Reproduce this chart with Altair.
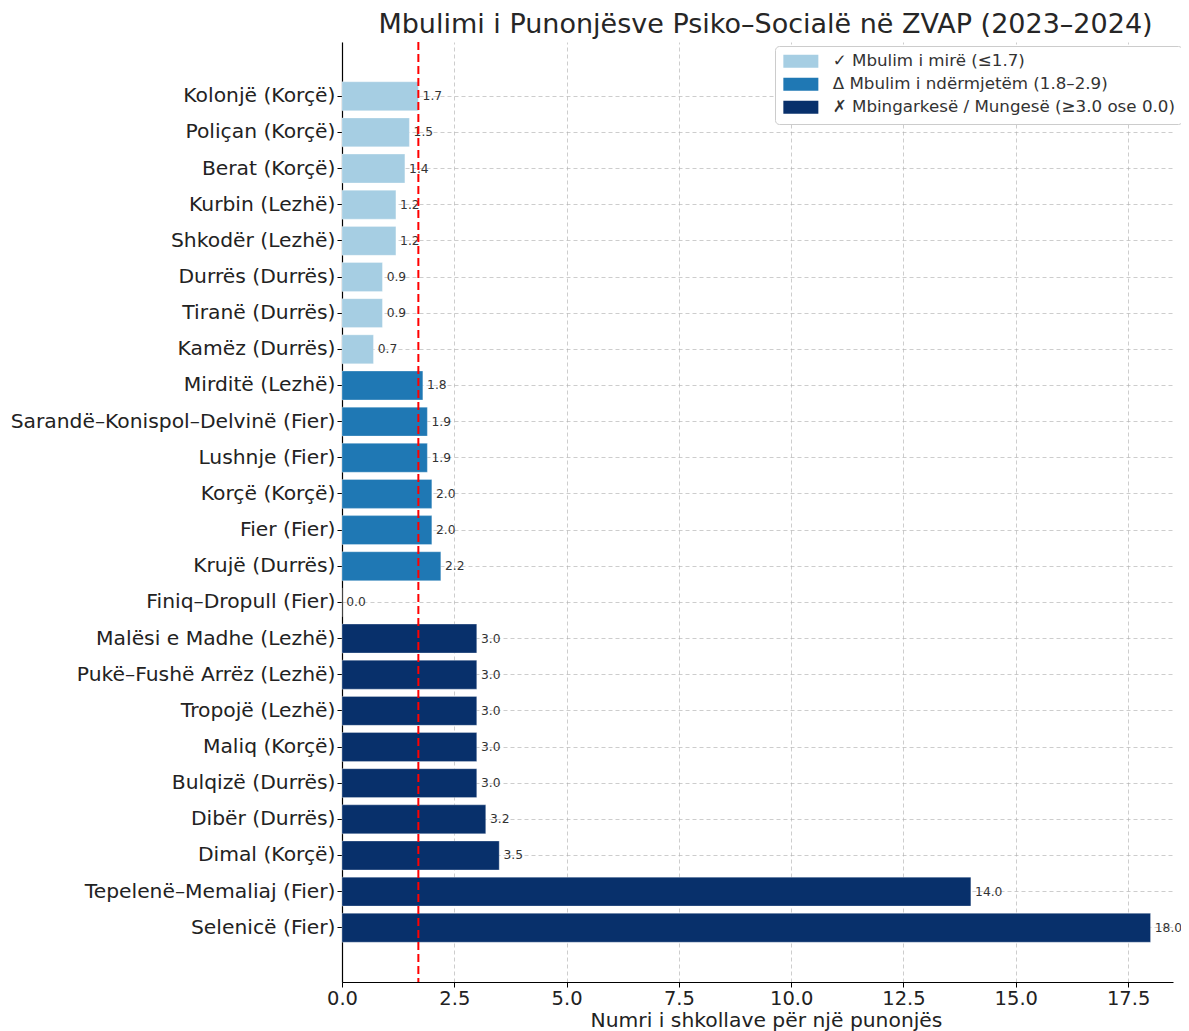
import altair as alt
import pandas as pd

districts = [
    "Kolonjë (Korçë)", "Poliçan (Korçë)", "Berat (Korçë)", "Kurbin (Lezhë)",
    "Shkodër (Lezhë)", "Durrës (Durrës)", "Tiranë (Durrës)", "Kamëz (Durrës)",
    "Mirditë (Lezhë)", "Sarandë–Konispol–Delvinë (Fier)", "Lushnje (Fier)",
    "Korçë (Korçë)", "Fier (Fier)", "Krujë (Durrës)", "Finiq–Dropull (Fier)",
    "Malësi e Madhe (Lezhë)", "Pukë–Fushë Arrëz (Lezhë)", "Tropojë (Lezhë)",
    "Maliq (Korçë)", "Bulqizë (Durrës)", "Dibër (Durrës)", "Dimal (Korçë)",
    "Tepelenë–Memaliaj (Fier)", "Selenicë (Fier)",
]
values = [1.7, 1.5, 1.4, 1.2, 1.2, 0.9, 0.9, 0.7,
          1.8, 1.9, 1.9, 2.0, 2.0, 2.2,
          0.0, 3.0, 3.0, 3.0, 3.0, 3.0, 3.2, 3.5, 14.0, 18.0]
group_index = [0, 0, 0, 0, 0, 0, 0, 0,
               1, 1, 1, 1, 1, 1,
               2, 2, 2, 2, 2, 2, 2, 2, 2, 2]
legend_labels = [
    "✓ Mbulim i mirë (≤1.7)",
    "Δ Mbulim i ndërmjetëm (1.8–2.9)",
    "✗ Mbingarkesë / Mungesë (≥3.0 ose 0.0)",
]
colors = ["#a6cee3", "#1f78b4", "#08306b"]
threshold = [1.7]
x_ticks = [0.0, 2.5, 5.0, 7.5, 10.0, 12.5, 15.0, 17.5]

df = pd.DataFrame({
    "district": districts,
    "value": values,
    "group": [legend_labels[g] for g in group_index],
})

FONT = "DejaVu Sans"

x_enc = alt.X(
    "value:Q",
    scale=alt.Scale(domain=[0, 18.5], nice=False, zero=True),
    axis=alt.Axis(
        values=x_ticks, format=".1f", title="Numri i shkollave për një punonjës",
        labelFontSize=19.5, titleFontSize=20.3, labelPadding=2, titlePadding=3,
        tickSize=5, labelFlush=False, titleX=424, titleAlign="center",
    ),
)
y_enc = alt.Y(
    "district:N", sort=districts,
    scale=alt.Scale(paddingInner=0, paddingOuter=1),
    axis=alt.Axis(title=None, labelFontSize=20.3, labelPadding=2, tickSize=5,
                  labelLimit=500, grid=True),
)

base = alt.Chart(df)

bars = base.mark_bar(
    height=alt.RelativeBandSize(0.8),
    stroke="white", strokeWidth=0.6, strokeOpacity=0.5,
).encode(
    x=x_enc,
    y=y_enc,
    color=alt.Color(
        "group:N",
        scale=alt.Scale(domain=legend_labels, range=colors),
        legend=alt.Legend(
            title=None, orient="none", legendX=433, legendY=4,
            padding=7, fillColor="white", strokeColor="#cccccc",
            cornerRadius=4, symbolType="M-1,-0.93H4V0.93H-1Z",
            symbolSize=196, symbolStrokeWidth=0, labelFontSize=16.7,
            labelOffset=34, rowPadding=5, labelLimit=600,
            labelColor="#333333", labelFont=FONT,
        ),
    ),
)

labels = base.mark_text(
    align="left", baseline="middle", dx=4.2, fontSize=12.3, color="#333333", font=FONT
).encode(
    x=alt.X("value:Q"),
    y=alt.Y("district:N", sort=districts),
    text=alt.Text("value:Q", format=".1f"),
)

rule = alt.Chart(pd.DataFrame({"t": threshold})).mark_rule(
    color="red", strokeDash=[8, 4], strokeWidth=2
).encode(x=alt.X("t:Q"))

chart = alt.layer(bars, labels, rule).properties(
    width=831,
    height=940,
    autosize=alt.AutoSizeParams(type="none"),
    padding={"left": 334, "top": 34, "right": 8, "bottom": 56},
    title=alt.Title(
        "Mbulimi i Punonjësve Psiko–Socialë në ZVAP (2023–2024)",
        fontSize=27, font=FONT, fontWeight="normal", color="#262626",
        offset=2, anchor="middle", dx=8,
    ),
).configure_view(stroke=None).configure_axis(
    labelFont=FONT, titleFont=FONT, titleFontWeight="normal",
    labelColor="#222222", titleColor="#222222",
    domainColor="black", domainWidth=1.2, tickColor="black",
    gridColor="#b0b0b0", gridDash=[4, 3], gridWidth=0.8, gridOpacity=0.8,
    zindex=1,
)

chart.save("out.html", embed_options={"renderer": "svg", "actions": False})
